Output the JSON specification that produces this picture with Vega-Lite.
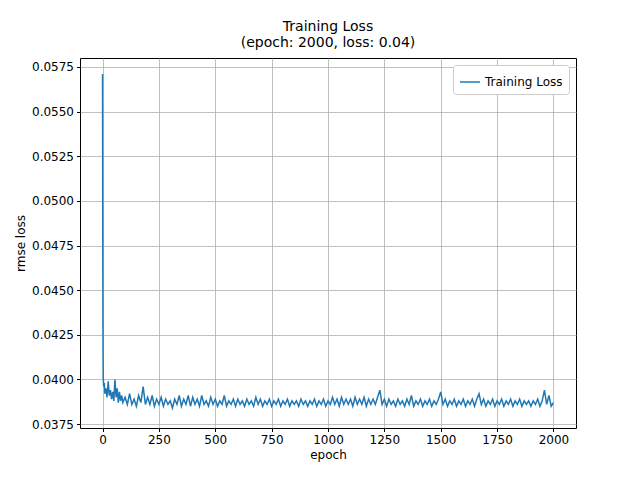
{"$schema":"https://vega.github.io/schema/vega-lite/v6.json","width":496,"height":370,"padding":{"left":80,"top":58,"right":64,"bottom":52},"autosize":"none","background":"white",
"title":{"text":["Training Loss","(epoch: 2000, loss: 0.04)"],"font":"DejaVu Sans","fontSize":14,"fontWeight":"normal","color":"black","offset":8},
"config":{"view":{"stroke":"black","strokeWidth":1},"axis":{"labelFont":"DejaVu Sans","titleFont":"DejaVu Sans","labelFontSize":12,"titleFontSize":12,"titleFontWeight":"normal","labelColor":"black","titleColor":"black","gridColor":"#b0b0b0","gridWidth":0.8,"domain":false,"tickColor":"black","tickSize":3.5,"labelPadding":3}},
"data":{"values":[
{"epoch":0,"loss":0.0571},{"epoch":1,"loss":0.0480},{"epoch":2,"loss":0.0420},{"epoch":3,"loss":0.0401},{"epoch":5,"loss":0.0396},{"epoch":8,"loss":0.0398},{"epoch":10,"loss":0.0392},{"epoch":15,"loss":0.0395},{"epoch":20,"loss":0.0390},{"epoch":25,"loss":0.0399},{"epoch":30,"loss":0.0391},{"epoch":35,"loss":0.0394},{"epoch":40,"loss":0.0389},{"epoch":45,"loss":0.0393},{"epoch":50,"loss":0.0388},{"epoch":55,"loss":0.0400},{"epoch":60,"loss":0.0390},{"epoch":65,"loss":0.0395},{"epoch":70,"loss":0.0387},{"epoch":75,"loss":0.0393},{"epoch":80,"loss":0.0388},{"epoch":85,"loss":0.0391},
{"epoch":90,"loss":0.0387},{"epoch":100,"loss":0.0390},{"epoch":110,"loss":0.0386},{"epoch":120,"loss":0.0392},{"epoch":130,"loss":0.0386},{"epoch":140,"loss":0.0389},{"epoch":150,"loss":0.0385},{"epoch":160,"loss":0.0391},{"epoch":170,"loss":0.0387},{"epoch":180,"loss":0.0396},{"epoch":190,"loss":0.0386},
{"epoch":200,"loss":0.0390},{"epoch":210,"loss":0.0386},{"epoch":220,"loss":0.0391},{"epoch":230,"loss":0.0385},{"epoch":240,"loss":0.0389},{"epoch":250,"loss":0.0386},{"epoch":260,"loss":0.0390},{"epoch":270,"loss":0.0385},{"epoch":280,"loss":0.0389},{"epoch":290,"loss":0.0386},
{"epoch":300,"loss":0.0388},{"epoch":310,"loss":0.0384},{"epoch":320,"loss":0.0389},{"epoch":330,"loss":0.0386},{"epoch":340,"loss":0.0391},{"epoch":350,"loss":0.0385},{"epoch":360,"loss":0.0389},{"epoch":370,"loss":0.0386},{"epoch":380,"loss":0.0391},{"epoch":390,"loss":0.0385},
{"epoch":400,"loss":0.0390},{"epoch":410,"loss":0.0386},{"epoch":420,"loss":0.0389},{"epoch":430,"loss":0.0385},{"epoch":440,"loss":0.0391},{"epoch":450,"loss":0.0386},{"epoch":460,"loss":0.0388},{"epoch":470,"loss":0.0385},{"epoch":480,"loss":0.0390},{"epoch":490,"loss":0.0386},
{"epoch":500,"loss":0.0389},{"epoch":510,"loss":0.0385},{"epoch":520,"loss":0.0388},{"epoch":530,"loss":0.0386},{"epoch":540,"loss":0.0391},{"epoch":550,"loss":0.0385},{"epoch":560,"loss":0.0388},{"epoch":570,"loss":0.0386},{"epoch":580,"loss":0.0389},{"epoch":590,"loss":0.0385},
{"epoch":600,"loss":0.0389},{"epoch":610,"loss":0.0386},{"epoch":620,"loss":0.0388},{"epoch":630,"loss":0.0385},{"epoch":640,"loss":0.0389},{"epoch":650,"loss":0.0386},{"epoch":660,"loss":0.0388},{"epoch":670,"loss":0.0385},{"epoch":680,"loss":0.0390},{"epoch":690,"loss":0.0386},
{"epoch":700,"loss":0.0389},{"epoch":710,"loss":0.0385},{"epoch":720,"loss":0.0388},{"epoch":730,"loss":0.0386},{"epoch":740,"loss":0.0389},{"epoch":750,"loss":0.0385},{"epoch":760,"loss":0.0388},{"epoch":770,"loss":0.0386},{"epoch":780,"loss":0.0389},{"epoch":790,"loss":0.0385},
{"epoch":800,"loss":0.0388},{"epoch":810,"loss":0.0386},{"epoch":820,"loss":0.0389},{"epoch":830,"loss":0.0385},{"epoch":840,"loss":0.0388},{"epoch":850,"loss":0.0386},{"epoch":860,"loss":0.0388},{"epoch":870,"loss":0.0385},{"epoch":880,"loss":0.0389},{"epoch":890,"loss":0.0386},
{"epoch":900,"loss":0.0388},{"epoch":910,"loss":0.0385},{"epoch":920,"loss":0.0388},{"epoch":930,"loss":0.0386},{"epoch":940,"loss":0.0389},{"epoch":950,"loss":0.0385},{"epoch":960,"loss":0.0388},{"epoch":970,"loss":0.0386},{"epoch":980,"loss":0.0389},{"epoch":990,"loss":0.0385},
{"epoch":1000,"loss":0.0388},{"epoch":1010,"loss":0.0386},{"epoch":1020,"loss":0.0390},{"epoch":1030,"loss":0.0386},{"epoch":1040,"loss":0.0389},{"epoch":1050,"loss":0.0385},{"epoch":1060,"loss":0.0390},{"epoch":1070,"loss":0.0386},{"epoch":1080,"loss":0.0389},{"epoch":1090,"loss":0.0386},
{"epoch":1100,"loss":0.0389},{"epoch":1110,"loss":0.0385},{"epoch":1120,"loss":0.0390},{"epoch":1130,"loss":0.0386},{"epoch":1140,"loss":0.0389},{"epoch":1150,"loss":0.0386},{"epoch":1160,"loss":0.0390},{"epoch":1170,"loss":0.0385},{"epoch":1180,"loss":0.0389},{"epoch":1190,"loss":0.0386},
{"epoch":1200,"loss":0.0389},{"epoch":1210,"loss":0.0386},{"epoch":1220,"loss":0.0390},{"epoch":1230,"loss":0.0394},{"epoch":1240,"loss":0.0386},{"epoch":1250,"loss":0.0389},{"epoch":1260,"loss":0.0385},{"epoch":1270,"loss":0.0389},{"epoch":1280,"loss":0.0386},{"epoch":1290,"loss":0.0388},
{"epoch":1300,"loss":0.0385},{"epoch":1310,"loss":0.0389},{"epoch":1320,"loss":0.0386},{"epoch":1330,"loss":0.0388},{"epoch":1340,"loss":0.0385},{"epoch":1350,"loss":0.0389},{"epoch":1360,"loss":0.0386},{"epoch":1370,"loss":0.0391},{"epoch":1380,"loss":0.0385},{"epoch":1390,"loss":0.0388},
{"epoch":1400,"loss":0.0386},{"epoch":1410,"loss":0.0389},{"epoch":1420,"loss":0.0385},{"epoch":1430,"loss":0.0388},{"epoch":1440,"loss":0.0386},{"epoch":1450,"loss":0.0389},{"epoch":1460,"loss":0.0385},{"epoch":1470,"loss":0.0388},{"epoch":1480,"loss":0.0386},{"epoch":1490,"loss":0.0389},
{"epoch":1500,"loss":0.0393},{"epoch":1510,"loss":0.0386},{"epoch":1520,"loss":0.0389},{"epoch":1530,"loss":0.0385},{"epoch":1540,"loss":0.0388},{"epoch":1550,"loss":0.0386},{"epoch":1560,"loss":0.0389},{"epoch":1570,"loss":0.0385},{"epoch":1580,"loss":0.0388},{"epoch":1590,"loss":0.0386},
{"epoch":1600,"loss":0.0389},{"epoch":1610,"loss":0.0385},{"epoch":1620,"loss":0.0388},{"epoch":1630,"loss":0.0386},{"epoch":1640,"loss":0.0389},{"epoch":1650,"loss":0.0385},{"epoch":1660,"loss":0.0389},{"epoch":1670,"loss":0.0392},{"epoch":1680,"loss":0.0386},{"epoch":1690,"loss":0.0389},
{"epoch":1700,"loss":0.0385},{"epoch":1710,"loss":0.0388},{"epoch":1720,"loss":0.0386},{"epoch":1730,"loss":0.0389},{"epoch":1740,"loss":0.0385},{"epoch":1750,"loss":0.0388},{"epoch":1760,"loss":0.0386},{"epoch":1770,"loss":0.0389},{"epoch":1780,"loss":0.0385},{"epoch":1790,"loss":0.0388},
{"epoch":1800,"loss":0.0386},{"epoch":1810,"loss":0.0389},{"epoch":1820,"loss":0.0385},{"epoch":1830,"loss":0.0388},{"epoch":1840,"loss":0.0386},{"epoch":1850,"loss":0.0389},{"epoch":1860,"loss":0.0385},{"epoch":1870,"loss":0.0388},{"epoch":1880,"loss":0.0386},{"epoch":1890,"loss":0.0388},
{"epoch":1900,"loss":0.0385},{"epoch":1910,"loss":0.0388},{"epoch":1920,"loss":0.0386},{"epoch":1930,"loss":0.0389},{"epoch":1940,"loss":0.0385},{"epoch":1950,"loss":0.0388},{"epoch":1960,"loss":0.0394},{"epoch":1970,"loss":0.0386},{"epoch":1980,"loss":0.0391},{"epoch":1990,"loss":0.0385},{"epoch":2000,"loss":0.0387}
]},
"transform":[{"calculate":"'Training Loss'","as":"series"}],
"mark":{"type":"line","strokeWidth":1.5,"clip":true},
"encoding":{
"x":{"field":"epoch","type":"quantitative","title":"epoch","scale":{"domain":[-100,2100],"nice":false,"zero":false},"axis":{"values":[0,250,500,750,1000,1250,1500,1750,2000],"format":"d"}},
"y":{"field":"loss","type":"quantitative","title":"rmse loss","scale":{"domain":[0.03728,0.0580],"nice":false,"zero":false},"axis":{"values":[0.0375,0.04,0.0425,0.045,0.0475,0.05,0.0525,0.055,0.0575],"format":".4f"}},
"color":{"field":"series","type":"nominal","scale":{"range":["#1f77b4"]},"legend":{"title":null,"orient":"top-right","labelFont":"DejaVu Sans","labelFontSize":12,"labelColor":"black","symbolType":"stroke","symbolSize":400,"symbolStrokeWidth":1.5,"strokeColor":"#cccccc","fillColor":"white","padding":6,"cornerRadius":3,"offset":7}}
}}
